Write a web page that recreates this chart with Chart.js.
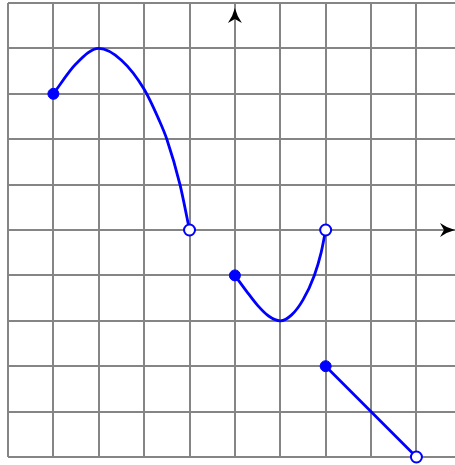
<!DOCTYPE html>
<html>
<head>
<meta charset="utf-8">
<script src="https://cdn.jsdelivr.net/npm/chart.js@4"></script>
<style>
  html, body { margin: 0; padding: 0; background: #fff; overflow: hidden; }
</style>
</head>
<body>
<canvas id="graph" width="455" height="465"></canvas>
<script>
// piecewise graph, values
const arcX = [-4, -3.5, -3, -2.5, -2, -1.67, -1.5, -1.21, -1];
const arcY = [3, 3.66, 4, 3.74, 3.1, 2.42, 2, 1, 0];

const cupX = [0, 0.25, 0.5, 0.75, 1, 1.25, 1.5, 1.75, 1.9, 2];
const cupY = [-1, -1.34, -1.66, -1.9, -2, -1.87, -1.54, -1, -0.5, 0];

const segX = [2, 4];
const segY = [-3, -5];

const filledX = [-4, 0, 2];
const filledY = [3, -1, -3];
const openX = [-1, 2, 4];
const openY = [0, 0, -5];

const blue = '#0000ff';
const gridGray = '#858585';

function pts(xs, ys) {
    return xs.map((x, i) => ({ x: x, y: ys[i] }));
}

const axisArrows = {
    id: 'axisArrows',
    afterDraw(chart) {
        const { ctx, chartArea, scales } = chart;
        const x0 = scales.x.getPixelForValue(0);
        const y0 = scales.y.getPixelForValue(0);
        ctx.save();
        ctx.fillStyle = '#000';
        // arrow at top of y axis
        const ty = chartArea.top + 5;
        ctx.beginPath();
        ctx.moveTo(x0, ty);
        ctx.quadraticCurveTo(x0 + 2, ty + 8, x0 + 7, ty + 15);
        ctx.lineTo(x0, ty + 11);
        ctx.lineTo(x0 - 7, ty + 15);
        ctx.quadraticCurveTo(x0 - 2, ty + 8, x0, ty);
        ctx.closePath();
        ctx.fill();
        // arrow at right end of x axis
        const tx = chartArea.right;
        ctx.beginPath();
        ctx.moveTo(tx, y0);
        ctx.quadraticCurveTo(tx - 8, y0 - 2, tx - 15, y0 - 7);
        ctx.lineTo(tx - 11, y0);
        ctx.lineTo(tx - 15, y0 + 7);
        ctx.quadraticCurveTo(tx - 8, y0 + 2, tx, y0);
        ctx.closePath();
        ctx.fill();
        ctx.restore();
    }
};

const graph = new Chart(document.getElementById('graph'), {
    type: 'scatter',
    data: {
        datasets: [
            {
                data: pts(filledX, filledY),
                pointRadius: 5.5,
                pointBackgroundColor: blue,
                pointBorderColor: blue,
                pointBorderWidth: 1,
                showLine: false,
                clip: false
            },
            {
                data: pts(openX, openY),
                pointRadius: 5.5,
                pointBackgroundColor: '#fff',
                pointBorderColor: blue,
                pointBorderWidth: 2,
                showLine: false,
                clip: false
            },
            {
                data: pts(arcX, arcY),
                showLine: true,
                borderColor: blue,
                borderWidth: 2.8,
                pointRadius: 0,
                cubicInterpolationMode: 'monotone',
                fill: false
            },
            {
                data: pts(cupX, cupY),
                showLine: true,
                borderColor: blue,
                borderWidth: 2.8,
                pointRadius: 0,
                cubicInterpolationMode: 'monotone',
                fill: false
            },
            {
                data: pts(segX, segY),
                showLine: true,
                borderColor: blue,
                borderWidth: 2.8,
                pointRadius: 0,
                fill: false
            }
        ]
    },
    options: {
        responsive: false,
        devicePixelRatio: 1,
        animation: false,
        layout: { autoPadding: false, padding: { left: 8, top: 3, right: 0, bottom: 8 } },
        plugins: {
            legend: { display: false },
            tooltip: { enabled: false }
        },
        scales: {
            x: {
                type: 'linear',
                min: -5,
                max: 4.85,
                ticks: { stepSize: 1, display: false, includeBounds: false },
                grid: { color: gridGray, lineWidth: 2, drawTicks: false },
                border: { display: false }
            },
            y: {
                type: 'linear',
                min: -5,
                max: 5,
                ticks: { stepSize: 1, display: false, includeBounds: false },
                grid: { color: gridGray, lineWidth: 2, drawTicks: false },
                border: { display: false }
            }
        }
    },
    plugins: [axisArrows]
});
</script>
</body>
</html>
